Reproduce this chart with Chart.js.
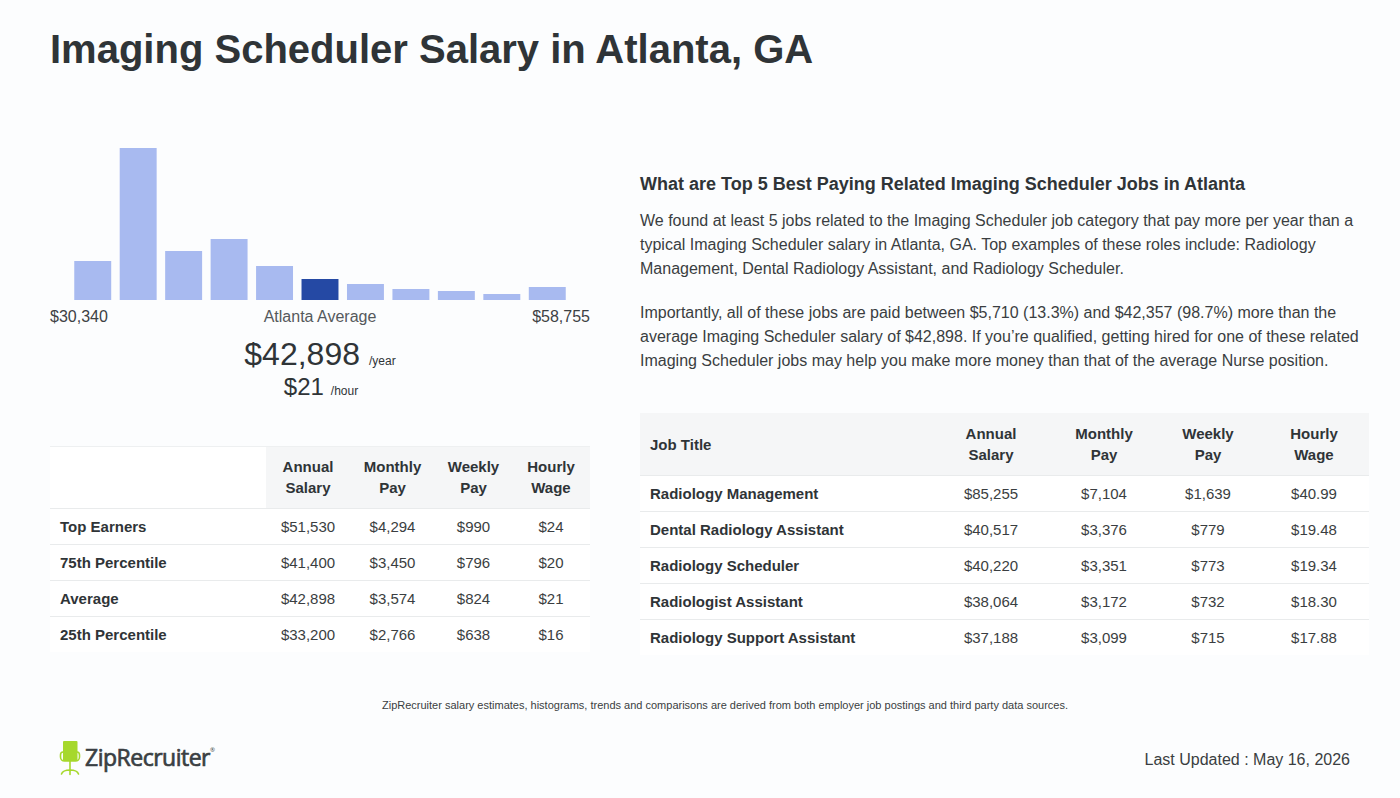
<!DOCTYPE html>
<html lang="en">
<head>
<meta charset="utf-8">
<title>Imaging Scheduler Salary in Atlanta, GA</title>
<script src="https://cdn.jsdelivr.net/npm/chart.js@4"></script>
<style>
  html, body { margin: 0; padding: 0; }
  body { width: 1400px; height: 798px; position: relative; overflow: hidden; background: #fcfdfe; color: #2f3437; font-family: "Liberation Sans", Arial, sans-serif; }
  .abs { position: absolute; white-space: nowrap; }
  h1 { margin: 0; left: 50px; top: 27px; font-size: 40px; line-height: 44px; font-weight: 700; }
  #chart-wrap { position: absolute; left: 69.5px; top: 148px; width: 500px; height: 152px; }
  .range { top: 308px; font-size: 16px; line-height: 18px; color: #3d4144; }
  .big { font-size: 32px; line-height: 40px; }
  .mid { font-size: 24px; line-height: 30px; }
  .unit { font-size: 12px; margin-left: 9px; }
  .copy { left: 640px; width: 729px; white-space: normal; margin: 0; font-size: 16px; line-height: 24px; color: #3a3e41; }
  h2 { margin: 0; left: 640px; top: 173px; font-size: 18px; line-height: 22px; font-weight: 700; color: #2f3437; }
  table { position: absolute; border-collapse: collapse; table-layout: fixed; font-size: 15px; background: #fff; }
  th { font-weight: 700; line-height: 21px; height: 62px; padding: 0; background: #f5f6f7; color: #2f3437; }
  td { height: 35px; padding: 0; text-align: center; border-top: 1px solid #e9ebec; color: #3a3e41; }
  td:first-child, th.lead { text-align: left; padding-left: 10px; font-weight: 700; color: #2f3437; }
  th.blank { background: #fff; }
  #left-table { left: 50px; top: 446px; width: 540px; }
  #left-table th { height: 59px; padding-bottom: 2px; border-top: 1px solid #eef0f1; }
  #right-table { left: 640px; top: 413px; width: 729px; }
  .note { left: 25px; width: 1400px; text-align: center; top: 698px; font-size: 11px; line-height: 14px; color: #3a3e41; }
  .updated { right: 50px; top: 751px; font-size: 16px; line-height: 18px; color: #3a3e41; }
  .logo { left: 85px; top: 735px; font-size: 23px; line-height: 30px; font-weight: 400; -webkit-text-stroke: 0.7px #3a3f43; letter-spacing: -0.5px; color: #3a3f43; font-family: "Open Sans", "Liberation Sans", sans-serif; }
  .logo sup { font-size: 6px; font-weight: 400; vertical-align: 14px; letter-spacing: 0; -webkit-text-stroke: 0; }
</style>
</head>
<body>
<h1 class="abs">Imaging Scheduler Salary in Atlanta, GA</h1>

<div id="chart-wrap"><canvas id="chart-histogram"></canvas></div>
<div class="abs range" style="left:50px">$30,340</div>
<div class="abs range" style="left:50px;width:540px;text-align:center;color:#55595c">Atlanta Average</div>
<div class="abs range" style="right:810px">$58,755</div>
<div class="abs big" style="left:50px;width:540px;text-align:center;top:334px">$42,898<span class="unit">/year</span></div>
<div class="abs mid" style="left:51px;width:540px;text-align:center;top:372px">$21<span class="unit" style="margin-left:7px">/hour</span></div>

<table id="left-table"></table>

<h2 class="abs">What are Top 5 Best Paying Related Imaging Scheduler Jobs in Atlanta</h2>
<p class="abs copy" style="top:209px">We found at least 5 jobs related to the Imaging Scheduler job category that pay more per year than a typical Imaging Scheduler salary in Atlanta, GA. Top examples of these roles include: Radiology Management, Dental Radiology Assistant, and Radiology Scheduler.</p>
<p class="abs copy" style="top:301px">Importantly, all of these jobs are paid between $5,710 (13.3%) and $42,357 (98.7%) more than the average Imaging Scheduler salary of $42,898. If you’re qualified, getting hired for one of these related Imaging Scheduler jobs may help you make more money than that of the average Nurse position.</p>

<table id="right-table"></table>

<div class="abs note">ZipRecruiter salary estimates, histograms, trends and comparisons are derived from both employer job postings and third party data sources.</div>

<svg class="abs" style="left:59px;top:740px" width="22" height="36" viewBox="0 0 22 36">
  <rect x="4" y="1" width="14.5" height="20" rx="1" fill="#a6d82c"/>
  <g fill="none" stroke="#a6d82c" stroke-width="1.6" stroke-linecap="round">
    <path d="M4 12c-2 0-2.5 1-2.5 3v2a4 4 0 0 0 4 4h11a4 4 0 0 0 4-4v-2c0-2-.5-3-2.5-3"/>
    <path d="M11 21v9"/>
    <path d="M2.5 34c1-3 4-4 8.500-4s7.500 1 8.500 4M11 30v4.500"/>
  </g>
</svg>
<div class="abs logo">ZipRecruiter<sup>®</sup></div>
<div class="abs updated">Last Updated : May 16, 2026</div>

<script>
// histogram bins (no axis in the original, so relative heights)
const salaryBins = ['b1', 'b2', 'b3', 'b4', 'b5', 'b6', 'b7', 'b8', 'b9', 'b10', 'b11'];
const binHeights = [39, 152, 49, 61, 34, 21, 16, 11, 9, 6, 13];
const averageBin = 5;

const percentileHeaders = ['', 'Annual<br>Salary', 'Monthly<br>Pay', 'Weekly<br>Pay', 'Hourly<br>Wage'];
const percentileWidths = [216, 84, 85, 77, 78];
const percentileRows = [
  ['Top Earners', '$51,530', '$4,294', '$990', '$24'],
  ['75th Percentile', '$41,400', '$3,450', '$796', '$20'],
  ['Average', '$42,898', '$3,574', '$824', '$21'],
  ['25th Percentile', '$33,200', '$2,766', '$638', '$16']
];

const jobHeaders = ['Job Title', 'Annual<br>Salary', 'Monthly<br>Pay', 'Weekly<br>Pay', 'Hourly<br>Wage'];
const jobWidths = [291, 120, 106, 102, 110];
const jobRows = [
  ['Radiology Management', '$85,255', '$7,104', '$1,639', '$40.99'],
  ['Dental Radiology Assistant', '$40,517', '$3,376', '$779', '$19.48'],
  ['Radiology Scheduler', '$40,220', '$3,351', '$773', '$19.34'],
  ['Radiologist Assistant', '$38,064', '$3,172', '$732', '$18.30'],
  ['Radiology Support Assistant', '$37,188', '$3,099', '$715', '$17.88']
];

function fillTable(id, headers, widths, rows) {
  const cols = widths.map(w => `<col style="width:${w}px">`).join('');
  const head = headers.map((h, i) => {
    const cls = i > 0 ? '' : (h ? 'lead' : 'blank');
    return `<th class="${cls}">${h}</th>`;
  }).join('');
  const body = rows.map(r => '<tr>' + r.map(c => `<td>${c}</td>`).join('') + '</tr>').join('');
  document.getElementById(id).innerHTML = `<colgroup>${cols}</colgroup><thead><tr>${head}</tr></thead><tbody>${body}</tbody>`;
}

fillTable('left-table', percentileHeaders, percentileWidths, percentileRows);
fillTable('right-table', jobHeaders, jobWidths, jobRows);

new Chart(document.getElementById('chart-histogram').getContext('2d'), {
  type: 'bar',
  data: {
    labels: salaryBins,
    datasets: [{
      data: binHeights,
      backgroundColor: binHeights.map((v, i) => i === averageBin ? '#2549a4' : '#a8baf0'),
      barPercentage: 0.813,
      categoryPercentage: 1
    }]
  },
  options: {
    responsive: true,
    maintainAspectRatio: false,
    animation: false,
    layout: { padding: 0 },
    scales: {
      x: { display: false },
      y: { display: false, min: 0, max: Math.max(...binHeights) }
    },
    plugins: {
      legend: { display: false },
      tooltip: { enabled: false }
    }
  }
});
</script>
</body>
</html>
